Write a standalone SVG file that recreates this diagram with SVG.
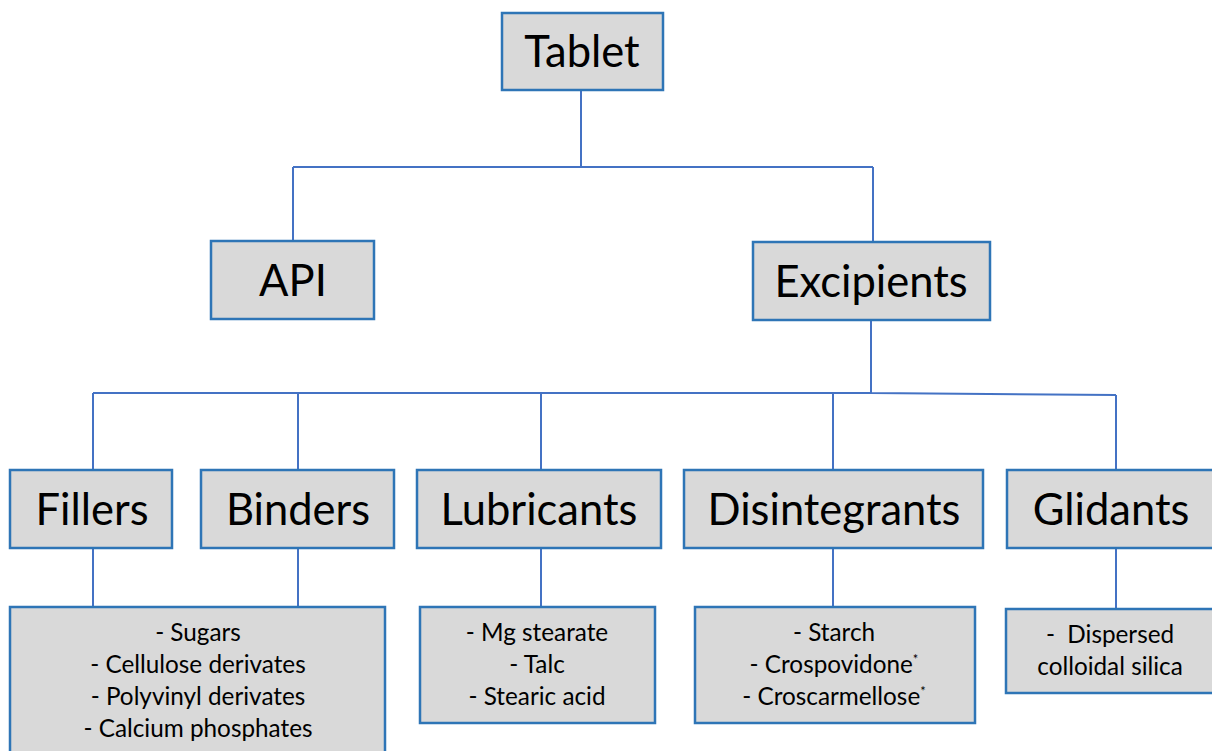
<svg xmlns="http://www.w3.org/2000/svg" width="1212" height="751" viewBox="0 0 1212 751">
<style>
.box{fill:#d9d9d9;stroke:#2e75b6;stroke-width:2.5}
.big{font-family:Lato,"Open Sans",sans-serif;font-size:43.5px;fill:#000;text-anchor:middle}
.sm{font-family:Lato,"Open Sans",sans-serif;font-size:24.3px;fill:#000;text-anchor:middle}
.c{fill:none;stroke:#4472c4;stroke-width:2}
</style>
<rect width="1212" height="751" fill="#fff"/>
<g id="connectors">
<path class="c" d="M581 90V167M293 167H873M293 167V241M873 167V242"/>
<path class="c" d="M871 320V393M93 393H871L1116 395M93 393V470M298 393V470M541 393V470M833 394V470M1116 395V470"/>
<path class="c" d="M93 548V607M298 548V607M541 548V607M833 548V607M1116 548V609"/>
</g>
<g id="tablet"><rect class="box" x="502" y="13" width="161" height="77"/><text class="big" x="582" y="67">Tablet</text></g>
<g id="api"><rect class="box" x="211" y="241" width="163" height="78"/><text class="big" x="293" y="296">API</text></g>
<g id="excipients"><rect class="box" x="753" y="242" width="237" height="78"/><text class="big" x="871" y="297">Excipients</text></g>
<g id="fillers"><rect class="box" x="10" y="470" width="162" height="78"/><text class="big" x="92" y="525">Fillers</text></g>
<g id="binders"><rect class="box" x="201" y="470" width="193" height="78"/><text class="big" x="298" y="525">Binders</text></g>
<g id="lubricants"><rect class="box" x="417" y="470" width="244" height="78"/><text class="big" x="539" y="525">Lubricants</text></g>
<g id="disintegrants"><rect class="box" x="684" y="470" width="299" height="78"/><text class="big" x="834" y="525">Disintegrants</text></g>
<g id="glidants"><rect class="box" x="1007" y="470" width="210" height="78"/><text class="big" x="1111" y="525">Glidants</text></g>
<g id="fillers-binders-list"><rect class="box" x="10" y="607" width="375" height="150"/>
<text class="sm" x="198" y="641">- Sugars</text>
<text class="sm" x="198" y="673">- Cellulose derivates</text>
<text class="sm" x="198" y="705">- Polyvinyl derivates</text>
<text class="sm" x="198" y="737">- Calcium phosphates</text></g>
<g id="lubricants-list"><rect class="box" x="420" y="607" width="235" height="116"/>
<text class="sm" x="537" y="641">- Mg stearate</text>
<text class="sm" x="537" y="673">- Talc</text>
<text class="sm" x="537" y="705">- Stearic acid</text></g>
<g id="disintegrants-list"><rect class="box" x="695" y="607" width="280" height="116"/>
<text class="sm" x="834" y="641">- Starch</text>
<text class="sm" x="834" y="673">- Crospovidone<tspan font-size="13" dy="-9">*</tspan></text>
<text class="sm" x="834" y="705">- Croscarmellose<tspan font-size="13" dy="-9">*</tspan></text></g>
<g id="glidants-list"><rect class="box" x="1006" y="609" width="210" height="84"/>
<text class="sm" x="1110" y="643" xml:space="preserve">-  Dispersed</text>
<text class="sm" x="1110" y="675">colloidal silica</text></g>
</svg>
